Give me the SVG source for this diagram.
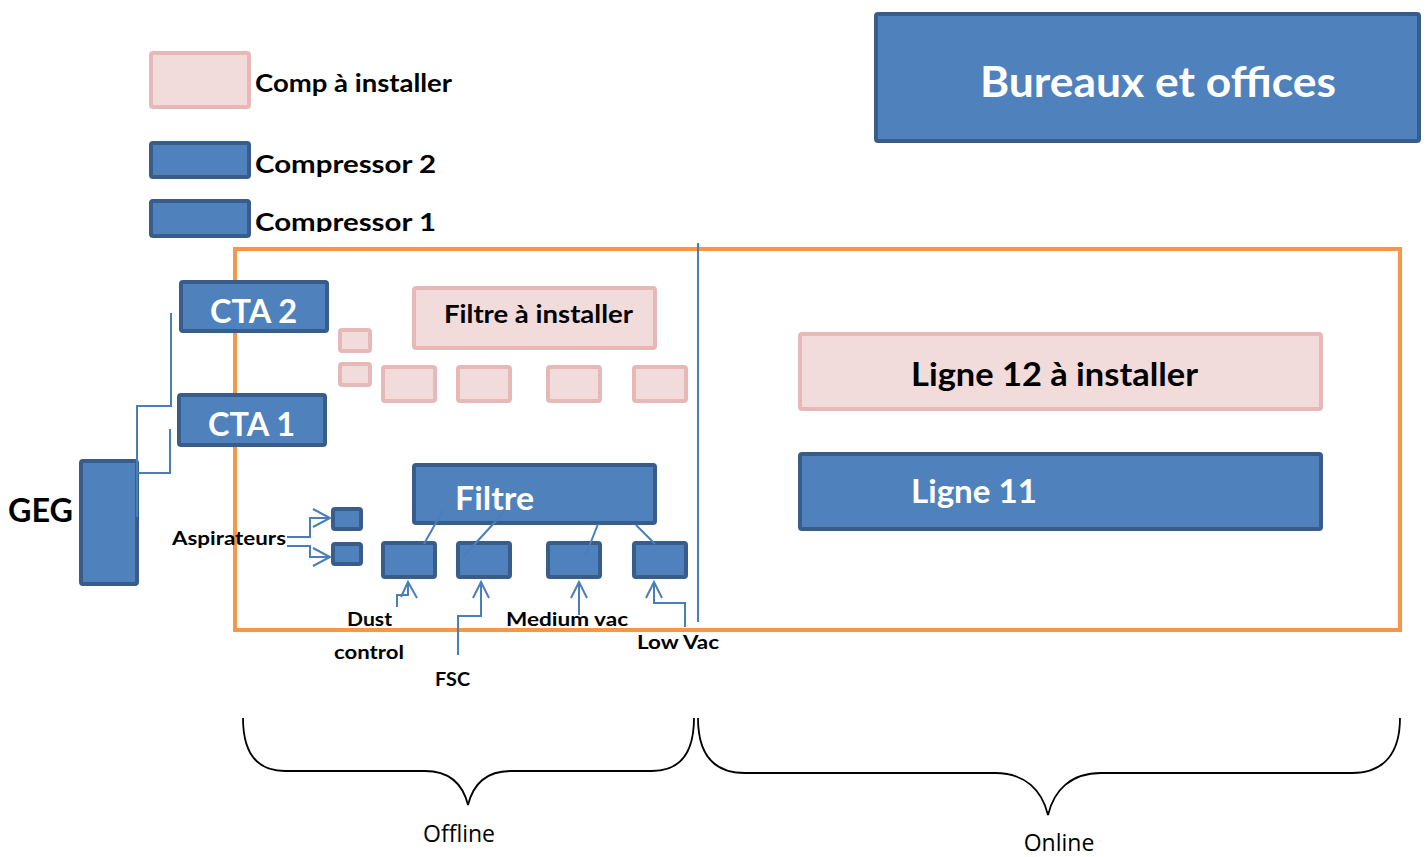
<svg xmlns="http://www.w3.org/2000/svg" width="1427" height="857" viewBox="0 0 1427 857">
<style>
.b{fill:#4f81bd;stroke:#385d8a;stroke-width:4}
.p{fill:#f2dcdb;stroke:#e6b9b8;stroke-width:4}
.w{font-family:Lato,"Open Sans",sans-serif;font-weight:bold;fill:#ffffff}
.k{font-family:Lato,"Open Sans",sans-serif;font-weight:bold;fill:#000000}
.r{font-family:"Open Sans","Liberation Sans",sans-serif;fill:#000000;font-size:23px}
.c{fill:none;stroke:#4a7ebb;stroke-width:2}
.br{fill:none;stroke:#000000;stroke-width:1.8}
</style>
<defs>
<clipPath id="clipC1"><rect x="250" y="195" width="250" height="37"/></clipPath>
</defs>
<rect width="1427" height="857" fill="#ffffff"/>

<g id="bureaux">
<rect class="b" x="876" y="14" width="543" height="127" rx="2"/>
<text class="w" x="980" y="97" font-size="42" textLength="356" lengthAdjust="spacingAndGlyphs">Bureaux et offices</text>
</g>

<g id="legend-comp">
<rect class="p" x="151" y="53" width="98" height="54" rx="2"/>
<text class="k" x="255" y="92" font-size="25" textLength="197" lengthAdjust="spacingAndGlyphs">Comp à installer</text>
</g>
<g id="legend-c2">
<rect class="b" x="151" y="143" width="98" height="34" rx="2"/>
<text class="k" x="255" y="173" font-size="25" textLength="181" lengthAdjust="spacingAndGlyphs">Compressor 2</text>
</g>
<g id="legend-c1">
<rect class="b" x="151" y="201" width="98" height="35" rx="2"/>
<text class="k" x="255" y="231" font-size="25" textLength="181" lengthAdjust="spacingAndGlyphs" clip-path="url(#clipC1)">Compressor 1</text>
</g>

<g id="zone">
<rect x="235" y="249" width="1165" height="381" fill="none" stroke="#f79646" stroke-width="4"/>
</g>

<g id="cta2">
<rect class="b" x="181" y="282" width="146" height="49" rx="2"/>
<text class="w" x="210" y="323" font-size="32" textLength="87" lengthAdjust="spacingAndGlyphs">CTA 2</text>
</g>
<g id="cta1">
<rect class="b" x="179" y="395" width="146" height="50" rx="2"/>
<text class="w" x="208" y="436" font-size="32" textLength="87" lengthAdjust="spacingAndGlyphs">CTA 1</text>
</g>
<g id="geg">
<rect class="b" x="81" y="461" width="56" height="123" rx="2"/>
<text class="k" x="8" y="522" font-size="32" textLength="65" lengthAdjust="spacingAndGlyphs">GEG</text>
</g>

<g id="filtre-installer">
<rect class="p" x="414" y="288" width="241" height="60" rx="2"/>
<text class="k" x="444" y="323" font-size="24" textLength="189" lengthAdjust="spacingAndGlyphs">Filtre à installer</text>
</g>
<g id="pink-small">
<rect class="p" x="340" y="330" width="30" height="21" rx="2"/>
<rect class="p" x="340" y="364" width="30" height="21" rx="2"/>
<rect class="p" x="383" y="367" width="52" height="34" rx="2"/>
<rect class="p" x="458" y="367" width="52" height="34" rx="2"/>
<rect class="p" x="548" y="367" width="52" height="34" rx="2"/>
<rect class="p" x="634" y="367" width="52" height="34" rx="2"/>
</g>

<g id="filtre">
<rect class="b" x="414" y="465" width="241" height="58" rx="2"/>
<text class="w" x="455" y="510" font-size="32" textLength="79" lengthAdjust="spacingAndGlyphs">Filtre</text>
</g>
<g id="aspirateurs">
<rect class="b" x="333" y="509" width="28" height="20" rx="2"/>
<rect class="b" x="333" y="544" width="28" height="20" rx="2"/>
<text class="k" x="172" y="545" font-size="18" textLength="114" lengthAdjust="spacingAndGlyphs">Aspirateurs</text>
</g>
<g id="units">
<rect class="b" x="383" y="543" width="52" height="34" rx="2"/>
<rect class="b" x="458" y="543" width="52" height="34" rx="2"/>
<rect class="b" x="548" y="543" width="52" height="34" rx="2"/>
<rect class="b" x="634" y="543" width="52" height="34" rx="2"/>
</g>
<g id="labels">
<text class="k" x="347" y="626" font-size="18" textLength="45" lengthAdjust="spacingAndGlyphs">Dust</text>
<text class="k" x="334" y="659" font-size="18" textLength="70" lengthAdjust="spacingAndGlyphs">control</text>
<text class="k" x="435" y="686" font-size="18" textLength="35" lengthAdjust="spacingAndGlyphs">FSC</text>
<text class="k" x="506" y="626" font-size="18" textLength="122" lengthAdjust="spacingAndGlyphs">Medium vac</text>
<text class="k" x="637" y="649" font-size="18" textLength="82" lengthAdjust="spacingAndGlyphs">Low Vac</text>
</g>

<g id="ligne12">
<rect class="p" x="800" y="334" width="521" height="75" rx="2"/>
<text class="k" x="911" y="386" font-size="32" textLength="287" lengthAdjust="spacingAndGlyphs">Ligne 12 à installer</text>
</g>
<g id="ligne11">
<rect class="b" x="800" y="454" width="521" height="75" rx="2"/>
<text class="w" x="911" y="503" font-size="32" textLength="126" lengthAdjust="spacingAndGlyphs">Ligne 11</text>
</g>

<g id="braces">
<path class="br" d="M243 718 C243 750 255 771 285 771 H425 C450 771 463 785 468 805 C473 785 486 771 511 771 H652 C682 771 694 750 694 718"/>
<path class="br" d="M698 718 C698 752 712 773 745 773 H995 C1025 773 1042 790 1048 815 C1054 790 1071 773 1101 773 H1352 C1385 773 1400 752 1400 718"/>
<text class="r" x="459" y="842" text-anchor="middle">Offline</text>
<text class="r" x="1059" y="851" text-anchor="middle">Online</text>
</g>

<g id="connectors">
<line x1="698" y1="243" x2="698" y2="622" stroke="#4a7ebb" stroke-width="2"/>
<path class="c" d="M171 313 V406 H137 V517"/>
<path class="c" d="M170 429 V473 H137"/>
<path class="c" d="M287 537 H310 V518 H330 M313 509 L330 518 L313 527"/>
<path class="c" d="M287 546 H310 V557 H330 M313 548 L330 557 L313 566"/>
<line class="c" x1="443" y1="510" x2="424" y2="544"/>
<line class="c" x1="505" y1="511" x2="463" y2="557"/>
<line class="c" x1="598" y1="524" x2="585" y2="557"/>
<line class="c" x1="636" y1="525" x2="655" y2="544"/>
<path class="c" d="M397 607 V595 H408 V582 M401 597 L408 582 L417 598"/>
<path class="c" d="M458 655 V616 H481 V582 M473 598 L481 582 L489 598"/>
<path class="c" d="M579 615 V582 M571 598 L579 582 L587 598"/>
<path class="c" d="M685 627 V603 H654 V582 M646 598 L654 582 L662 598"/>
</g>
</svg>
